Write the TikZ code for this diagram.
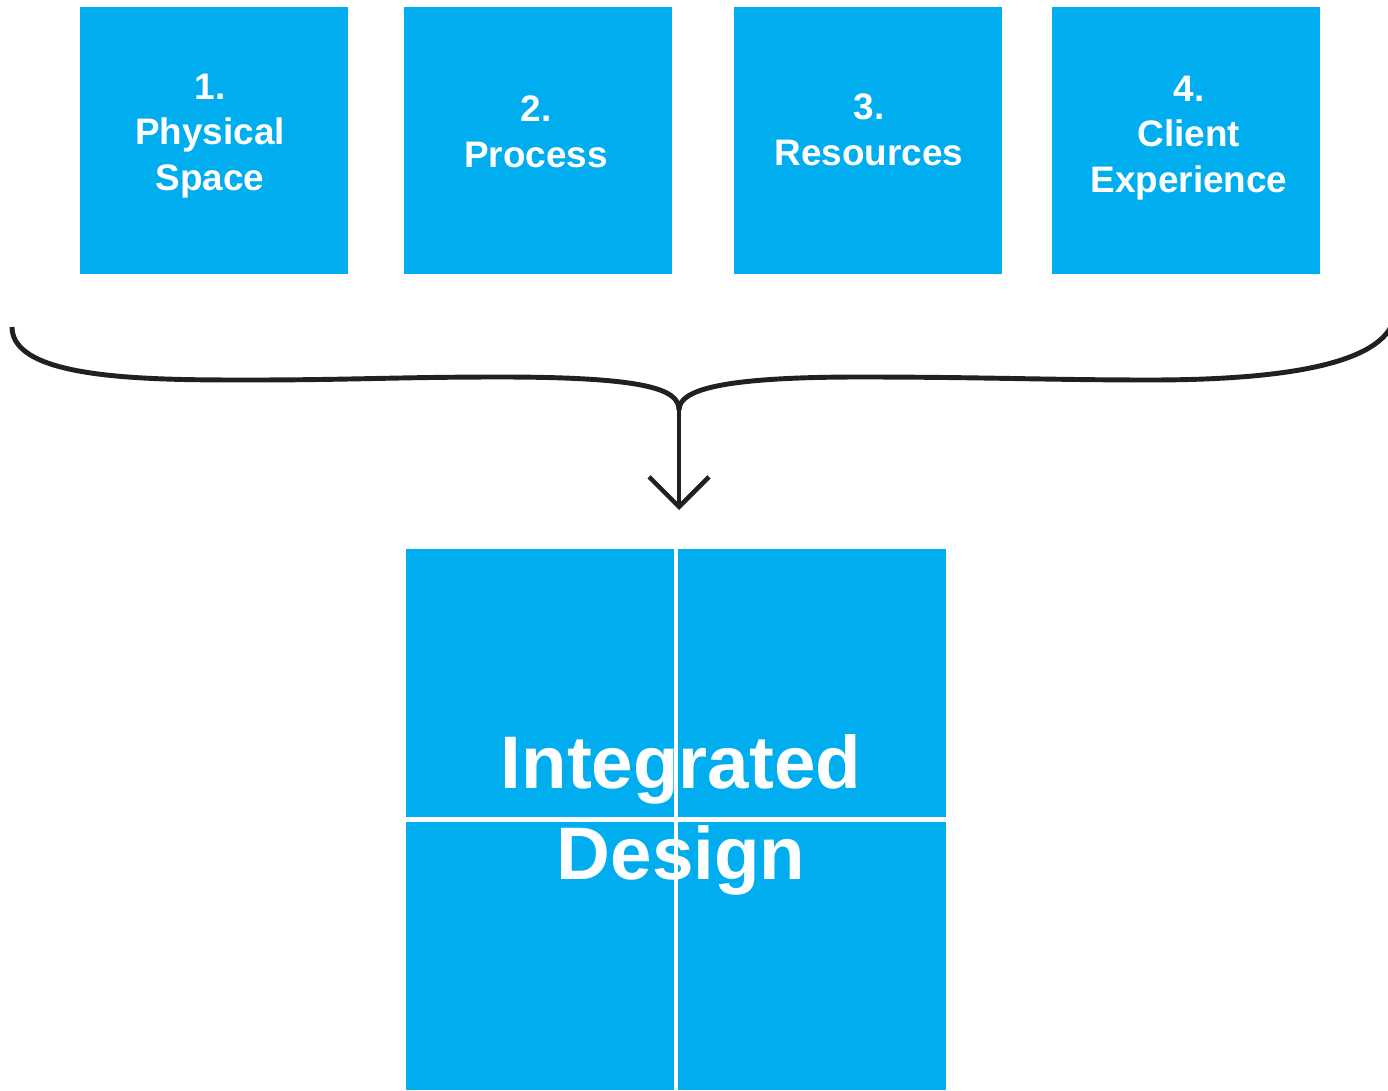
\documentclass[tikz,border=0pt]{standalone}
\usepackage{fontspec}
\setsansfont{Liberation Sans}
\usepackage{tikz}
\usetikzlibrary{arrows.meta,positioning,calc}
\usepackage{xcolor}
\definecolor{tileblue}{RGB}{0,174,239}
\definecolor{inkdark}{RGB}{35,31,32}

\begin{document}
\begin{tikzpicture}[
  every node/.style={font=\sffamily\bfseries},
  tile/.style={fill=tileblue, minimum width=2.68cm, minimum height=2.67cm, inner sep=0pt},
  quad/.style={fill=tileblue, minimum width=2.68cm, minimum height=2.68cm, inner sep=0pt},
  lbl/.style={text=white, align=center, font=\sffamily\bfseries\fontsize{10.5}{13}\selectfont},
  brace/.style={draw=inkdark, line width=1.4pt},
  arr/.style={-{Straight Barb[length=0.3cm, width=0.6cm]}, draw=inkdark, line width=1.3pt},
]
\useasboundingbox (0,0) rectangle (13.88,10.90);
% four topics
\node[tile] (b1) at (2.14, 9.495) {};
\node[tile] (b2) at (5.38, 9.495) {};
\node[tile] (b3) at (8.68, 9.495) {};
\node[tile] (b4) at (11.86, 9.495) {};
\node[lbl] (t1) at (2.10, 9.54) {1.\\Physical\\Space};
\node[lbl] (t2) at (5.36, 9.58) {2.\\Process};
\node[lbl] (t3) at (8.69, 9.60) {3.\\Resources};
\node[lbl] (t4) at (11.89, 9.52) {4.\\Client\\Experience};
% brace
\coordinate (tip) at (6.79, 6.80);
\coordinate (down) at (6.79, 5.80);
\draw[brace] (0.12, 7.63) .. controls (0.12, 7.10) and (1.5, 7.10) .. (2.5, 7.10)
  .. controls (3.5, 7.10) and (4.0, 7.13) .. (5.0, 7.13)
  .. controls (6.5, 7.13) and (6.79, 7.0) .. (tip);
\draw[brace] (tip) .. controls (6.79, 7.0) and (7.2, 7.13) .. (8.6, 7.13)
  .. controls (9.8, 7.13) and (10.5, 7.10) .. (11.5, 7.10)
  .. controls (13.0, 7.10) and (13.88, 7.3) .. (13.95, 7.75);
\draw[arr] (tip) -- (down);
% integrated design
\node[quad] (q1) at (5.40, 4.07) {};
\node[quad] (q2) at (8.12, 4.07) {};
\node[quad] (q3) at (5.40, 1.34) {};
\node[quad] (q4) at (8.12, 1.34) {};
\node[text=white, align=center, font=\sffamily\bfseries\fontsize{21.2}{26}\selectfont] (title) at (6.81, 2.75) {Integrated\\Design};
\end{tikzpicture}
\end{document}
